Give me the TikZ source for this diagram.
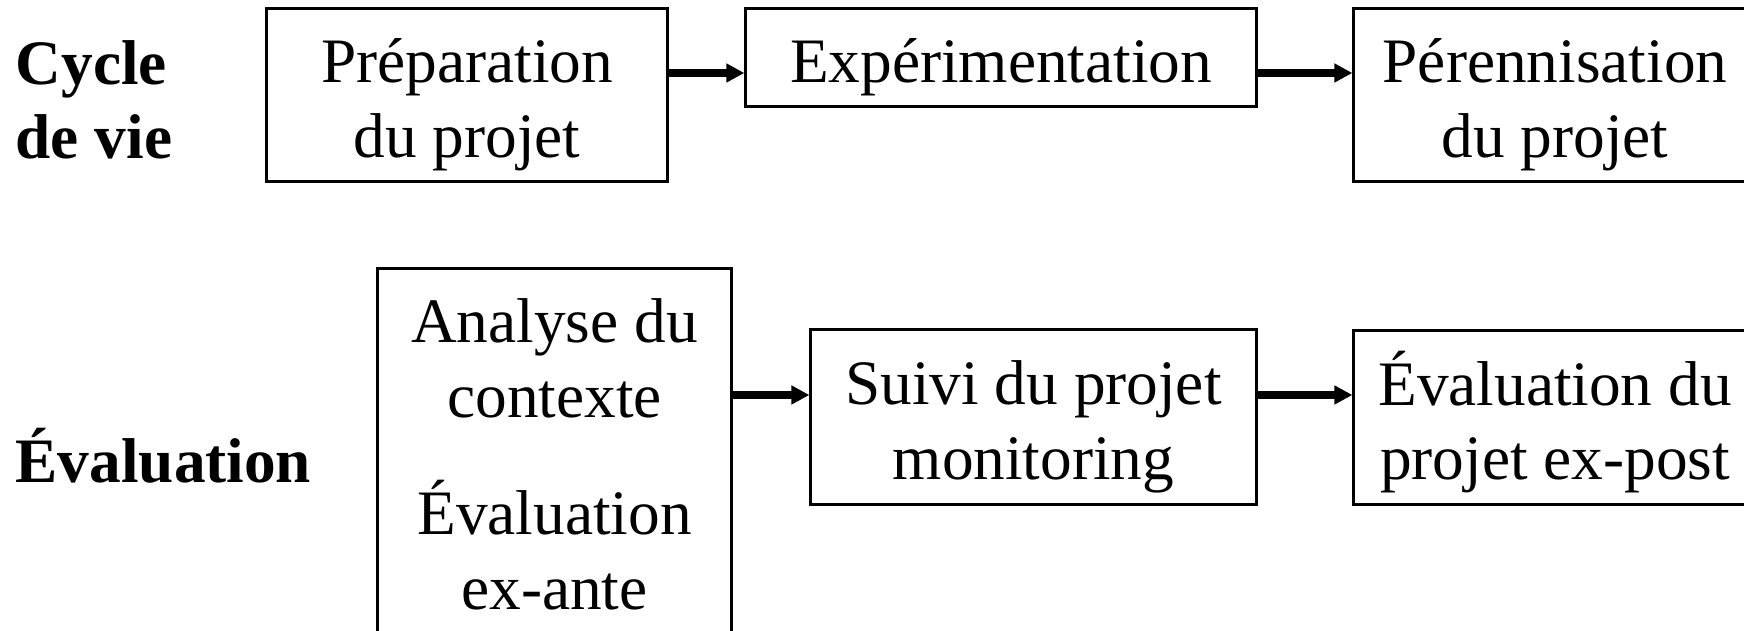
\documentclass[tikz,border=0pt]{standalone}
\usepackage{fontspec}
\setmainfont{Liberation Serif}
\usetikzlibrary{arrows.meta}

\newcommand{\boxtxt}[1]{\rule{0pt}{0.64cm}#1\rule[-0.14cm]{0pt}{0.14cm}}

\begin{document}
\begin{tikzpicture}[x=0.01cm, y=-0.01cm,
	box/.style={draw, line width=0.85pt, inner sep=0pt, align=center,
		font=\fontsize{18}{21.3}\selectfont},
	lbl/.style={inner sep=0pt, align=left, font=\fontsize{18}{21.3}\selectfont\bfseries},
	arr/.style={line width=2pt, -{Triangle[length=0.18cm, width=0.18cm]}}]

	\clip (0,0) rectangle (1744,631);

	\node[lbl, anchor=west] (cycle) at (15,96.5) {\boxtxt{Cycle\\de vie}};
	\node[lbl, anchor=base west] (evaluation) at (15,483) {Évaluation};

	% cycle de vie
	\node[box, minimum width=4cm, minimum height=1.72cm] (prep) at (467,95) {\boxtxt{Préparation\\du projet}};
	\node[box, minimum width=5.1cm, minimum height=0.97cm] (exp) at (1001,57.5) {\boxtxt{Expérimentation}};
	\node[box, minimum width=4.02cm, minimum height=1.72cm] (peren) at (1555,95) {\boxtxt{Pérennisation\\du projet}};

	% evaluation
	\node[box, anchor=north, minimum width=3.53cm, inner ysep=0.1cm, text depth=2cm] (analyse) at (554.5,267)
		{\boxtxt{Analyse du\\contexte\\[0.42cm]Évaluation\\ex-ante}};
	\node[box, minimum width=4.45cm, minimum height=1.74cm] (suivi) at (1033.5,417) {\boxtxt{Suivi du projet\\monitoring}};
	\node[box, minimum width=4.02cm, minimum height=1.73cm] (expost) at (1555,417.5) {\boxtxt{Évaluation du\\projet ex-post}};

	\draw[arr] (prep.east |- 0,73) -- (exp.west |- 0,73);
	\draw[arr] (exp.east |- 0,73) -- (peren.west |- 0,73);
	\draw[arr] (analyse.east |- 0,395) -- (suivi.west |- 0,395);
	\draw[arr] (suivi.east |- 0,395) -- (expost.west |- 0,395);

\end{tikzpicture}
\end{document}
